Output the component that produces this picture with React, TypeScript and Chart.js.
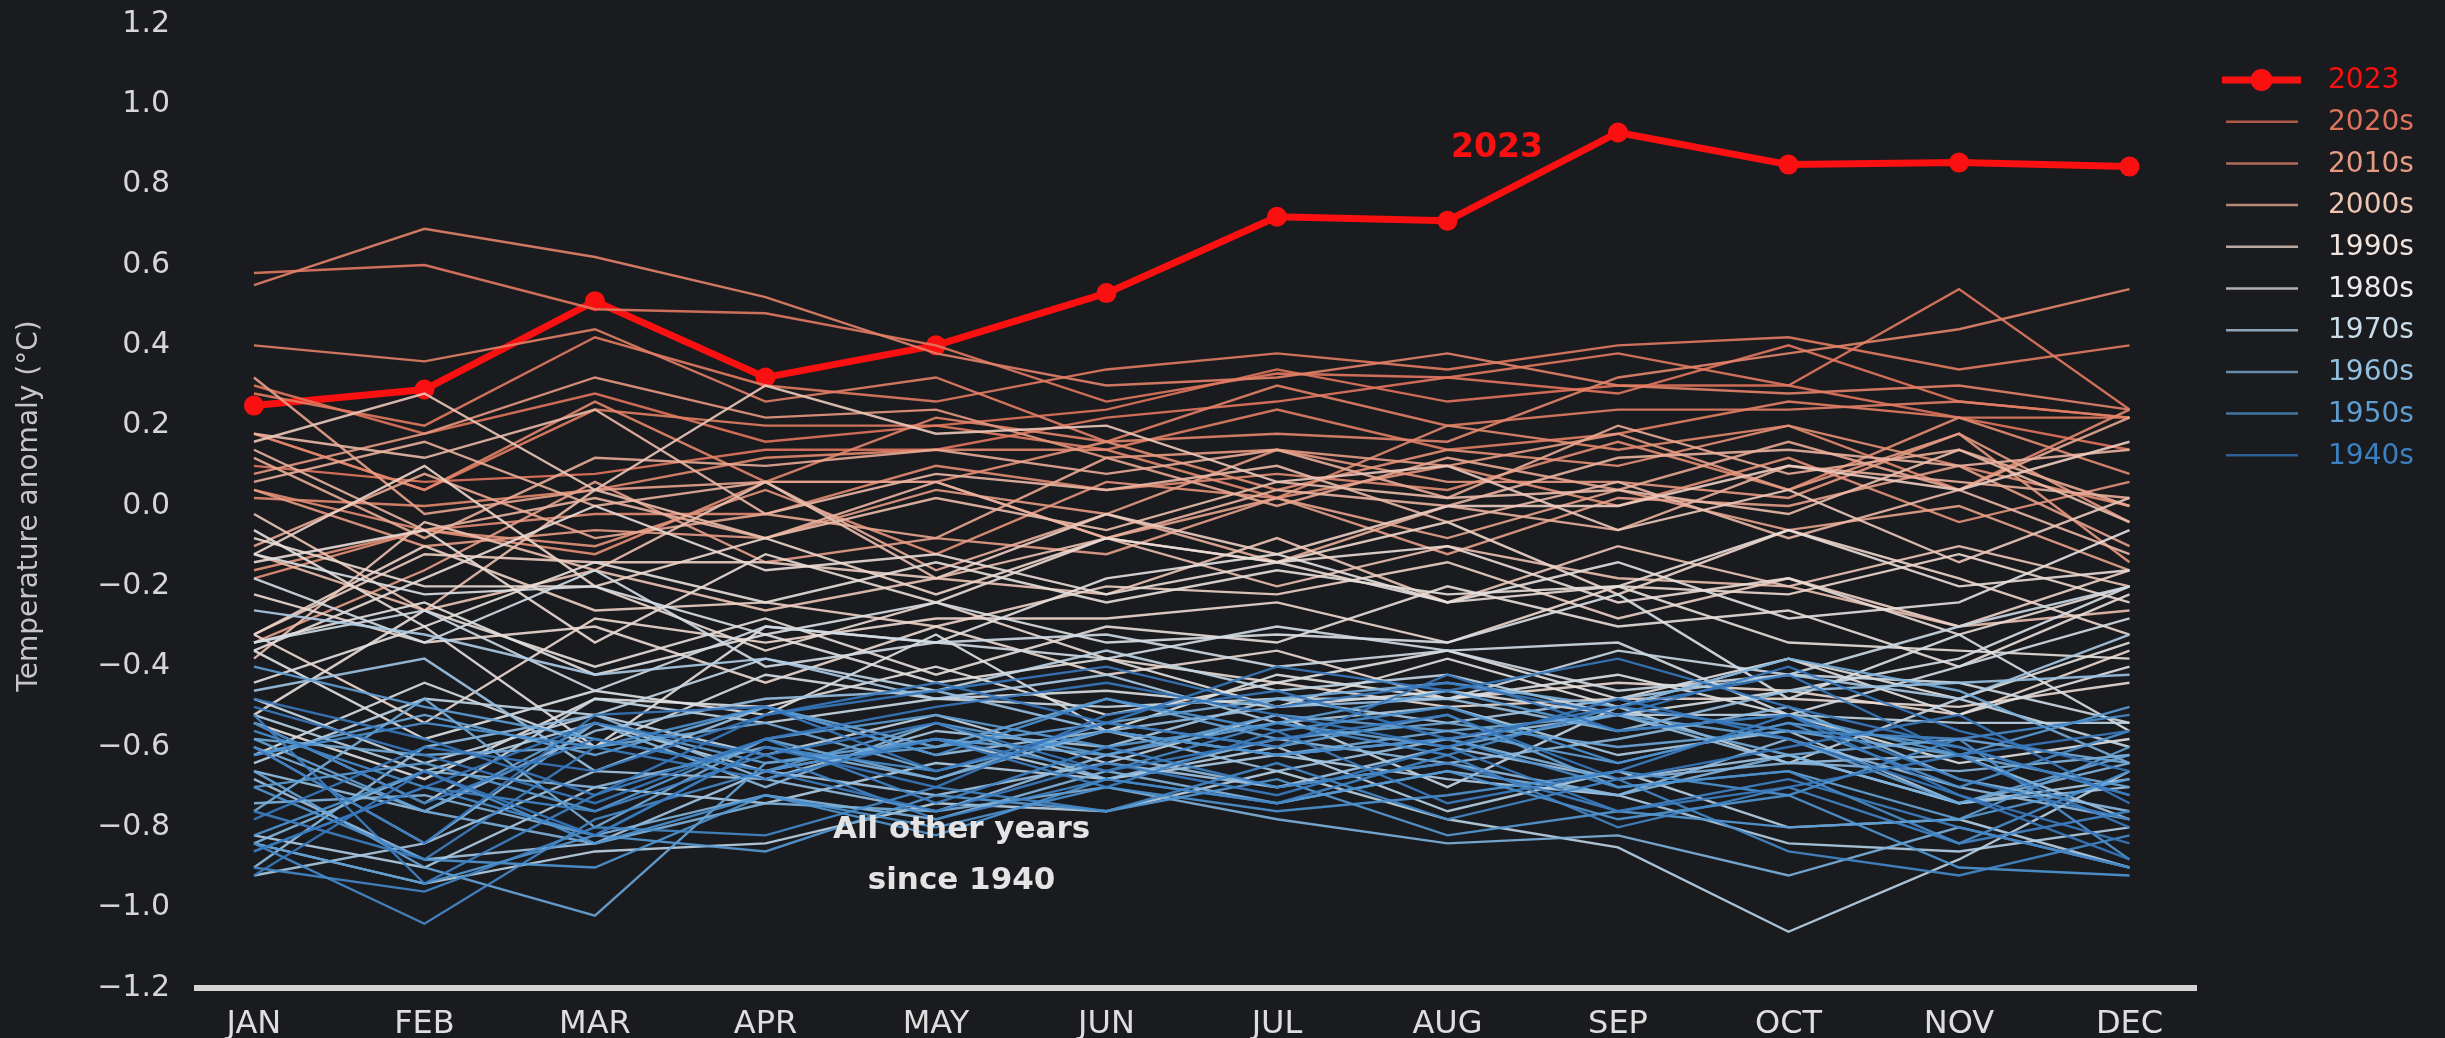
import React, { useEffect, useRef } from 'react';
import { Chart, registerables } from 'chart.js';

Chart.register(...registerables);

const months = ['JAN', 'FEB', 'MAR', 'APR', 'MAY', 'JUN', 'JUL', 'AUG', 'SEP', 'OCT', 'NOV', 'DEC'];

const highlightLabel = '2023';
const highlightValues = [0.25, 0.29, 0.51, 0.32, 0.40, 0.53, 0.72, 0.71, 0.93, 0.85, 0.855, 0.845];

const pastYears = [
  1940, 1941, 1942, 1943, 1944, 1945, 1946, 1947, 1948, 1949,
  1950, 1951, 1952, 1953, 1954, 1955, 1956, 1957, 1958, 1959,
  1960, 1961, 1962, 1963, 1964, 1965, 1966, 1967, 1968, 1969,
  1970, 1971, 1972, 1973, 1974, 1975, 1976, 1977, 1978, 1979,
  1980, 1981, 1982, 1983, 1984, 1985, 1986, 1987, 1988, 1989,
  1990, 1991, 1992, 1993, 1994, 1995, 1996, 1997, 1998, 1999,
  2000, 2001, 2002, 2003, 2004, 2005, 2006, 2007, 2008, 2009,
  2010, 2011, 2012, 2013, 2014, 2015, 2016, 2017, 2018, 2019,
  2020, 2021, 2022,
];

const pastAnomalies = [
  [-0.50, -0.62, -0.74, -0.58, -0.50, -0.44, -0.52, -0.60, -0.48, -0.58, -0.72, -0.84],
  [-0.78, -0.60, -0.66, -0.52, -0.46, -0.40, -0.50, -0.44, -0.52, -0.40, -0.56, -0.66],
  [-0.86, -0.70, -0.54, -0.62, -0.54, -0.66, -0.58, -0.52, -0.68, -0.60, -0.52, -0.74],
  [-0.92, -0.66, -0.82, -0.60, -0.70, -0.52, -0.46, -0.58, -0.50, -0.42, -0.62, -0.56],
  [-0.48, -0.58, -0.72, -0.52, -0.44, -0.54, -0.40, -0.46, -0.38, -0.50, -0.60, -0.72],
  [-0.60, -0.84, -0.52, -0.50, -0.66, -0.54, -0.60, -0.42, -0.56, -0.52, -0.72, -0.88],
  [-0.54, -0.74, -0.58, -0.66, -0.76, -0.64, -0.72, -0.60, -0.76, -0.70, -0.62, -0.80],
  [-0.76, -0.88, -0.60, -0.68, -0.58, -0.70, -0.56, -0.74, -0.66, -0.52, -0.68, -0.78],
  [-0.52, -0.94, -0.72, -0.58, -0.74, -0.60, -0.70, -0.64, -0.76, -0.68, -0.80, -0.90],
  [-0.86, -0.70, -0.76, -0.62, -0.78, -0.68, -0.74, -0.62, -0.80, -0.70, -0.84, -0.76],
  [-0.90, -0.96, -0.80, -0.82, -0.70, -0.76, -0.64, -0.78, -0.68, -0.86, -0.92, -0.82],
  [-0.84, -1.04, -0.78, -0.66, -0.58, -0.66, -0.54, -0.62, -0.50, -0.56, -0.58, -0.52],
  [-0.56, -0.70, -0.82, -0.60, -0.66, -0.56, -0.62, -0.58, -0.70, -0.66, -0.84, -0.66],
  [-0.62, -0.54, -0.60, -0.50, -0.62, -0.48, -0.56, -0.50, -0.64, -0.54, -0.70, -0.56],
  [-0.82, -0.66, -0.84, -0.72, -0.80, -0.70, -0.76, -0.72, -0.66, -0.72, -0.58, -0.88],
  [-0.70, -0.88, -0.90, -0.72, -0.82, -0.68, -0.74, -0.66, -0.78, -0.72, -0.90, -0.92],
  [-0.84, -0.94, -0.82, -0.86, -0.72, -0.76, -0.68, -0.82, -0.76, -0.80, -0.78, -0.68],
  [-0.70, -0.64, -0.76, -0.58, -0.52, -0.60, -0.54, -0.46, -0.56, -0.52, -0.62, -0.50],
  [-0.40, -0.50, -0.58, -0.66, -0.54, -0.62, -0.52, -0.56, -0.64, -0.54, -0.60, -0.72],
  [-0.58, -0.76, -0.54, -0.64, -0.60, -0.54, -0.60, -0.52, -0.70, -0.66, -0.78, -0.60],
  [-0.66, -0.90, -1.02, -0.64, -0.58, -0.62, -0.54, -0.60, -0.52, -0.58, -0.74, -0.62],
  [-0.62, -0.52, -0.62, -0.50, -0.60, -0.48, -0.58, -0.54, -0.60, -0.56, -0.62, -0.70],
  [-0.58, -0.62, -0.60, -0.54, -0.66, -0.56, -0.62, -0.56, -0.52, -0.62, -0.58, -0.64],
  [-0.76, -0.48, -0.80, -0.58, -0.68, -0.54, -0.48, -0.44, -0.50, -0.38, -0.46, -0.64],
  [-0.60, -0.76, -0.84, -0.74, -0.76, -0.70, -0.78, -0.84, -0.82, -0.92, -0.80, -0.90],
  [-0.74, -0.72, -0.82, -0.72, -0.78, -0.66, -0.74, -0.66, -0.72, -0.62, -0.74, -0.64],
  [-0.84, -0.66, -0.70, -0.60, -0.68, -0.56, -0.62, -0.58, -0.68, -0.64, -0.66, -0.62],
  [-0.60, -0.84, -0.54, -0.70, -0.54, -0.68, -0.58, -0.64, -0.58, -0.50, -0.68, -0.76],
  [-0.90, -0.60, -0.52, -0.68, -0.76, -0.62, -0.70, -0.64, -0.72, -0.58, -0.70, -0.78],
  [-0.66, -0.76, -0.56, -0.48, -0.46, -0.56, -0.50, -0.48, -0.56, -0.46, -0.44, -0.42],
  [-0.46, -0.38, -0.66, -0.50, -0.62, -0.56, -0.66, -0.58, -0.52, -0.64, -0.62, -0.78],
  [-0.68, -0.88, -0.84, -0.66, -0.72, -0.64, -0.70, -0.60, -0.68, -0.62, -0.74, -0.70],
  [-0.92, -0.84, -0.66, -0.68, -0.56, -0.60, -0.48, -0.54, -0.48, -0.42, -0.48, -0.32],
  [-0.26, -0.32, -0.42, -0.38, -0.48, -0.42, -0.54, -0.50, -0.62, -0.56, -0.74, -0.68],
  [-0.82, -0.90, -0.70, -0.74, -0.64, -0.68, -0.62, -0.68, -0.72, -0.84, -0.86, -0.80],
  [-0.52, -0.66, -0.54, -0.66, -0.58, -0.68, -0.60, -0.76, -0.66, -0.80, -0.78, -0.90],
  [-0.84, -0.94, -0.86, -0.84, -0.74, -0.76, -0.66, -0.78, -0.85, -1.06, -0.88, -0.66],
  [-0.64, -0.48, -0.52, -0.38, -0.46, -0.36, -0.46, -0.42, -0.52, -0.52, -0.54, -0.54],
  [-0.48, -0.64, -0.52, -0.62, -0.52, -0.64, -0.52, -0.70, -0.50, -0.64, -0.48, -0.60],
  [-0.54, -0.74, -0.48, -0.54, -0.48, -0.50, -0.48, -0.48, -0.36, -0.42, -0.30, -0.20],
  [-0.34, -0.26, -0.46, -0.30, -0.34, -0.32, -0.40, -0.36, -0.46, -0.42, -0.44, -0.54],
  [-0.18, -0.34, -0.16, -0.40, -0.34, -0.38, -0.30, -0.36, -0.34, -0.52, -0.40, -0.28],
  [-0.62, -0.44, -0.60, -0.42, -0.48, -0.46, -0.50, -0.46, -0.52, -0.46, -0.38, -0.20],
  [-0.12, -0.22, -0.20, -0.32, -0.24, -0.34, -0.32, -0.34, -0.22, -0.48, -0.32, -0.56],
  [-0.36, -0.58, -0.46, -0.52, -0.32, -0.56, -0.42, -0.48, -0.42, -0.52, -0.64, -0.58],
  [-0.54, -0.68, -0.48, -0.50, -0.40, -0.52, -0.44, -0.36, -0.48, -0.38, -0.52, -0.40],
  [-0.34, -0.24, -0.42, -0.32, -0.44, -0.38, -0.50, -0.38, -0.50, -0.38, -0.48, -0.34],
  [-0.44, -0.30, -0.60, -0.30, -0.34, -0.18, -0.12, -0.24, -0.14, -0.28, -0.24, -0.06],
  [-0.06, -0.30, -0.14, -0.24, -0.14, -0.24, -0.16, -0.22, -0.20, -0.34, -0.36, -0.38],
  [-0.52, -0.26, -0.40, -0.28, -0.42, -0.30, -0.34, -0.20, -0.30, -0.26, -0.40, -0.22],
  [-0.36, -0.18, 0.00, -0.16, -0.12, -0.22, -0.14, -0.24, -0.20, -0.06, -0.20, -0.16],
  [-0.14, -0.06, -0.34, -0.12, -0.24, -0.08, -0.14, -0.10, -0.24, -0.18, -0.32, -0.20],
  [-0.08, -0.20, -0.20, -0.36, -0.24, -0.38, -0.44, -0.50, -0.48, -0.48, -0.50, -0.44],
  [-0.22, -0.34, -0.30, -0.44, -0.30, -0.42, -0.36, -0.48, -0.44, -0.46, -0.52, -0.36],
  [-0.32, -0.54, -0.28, -0.34, -0.28, -0.28, -0.24, -0.34, -0.20, -0.22, -0.12, -0.24],
  [-0.12, 0.10, -0.20, -0.08, -0.22, -0.08, -0.14, -0.04, -0.22, -0.06, -0.18, -0.32],
  [-0.32, -0.10, -0.26, -0.24, -0.30, -0.20, -0.22, -0.14, -0.28, -0.18, -0.30, -0.16],
  [-0.32, -0.12, -0.14, -0.14, -0.18, -0.02, -0.12, 0.00, 0.00, 0.10, 0.04, 0.16],
  [0.16, 0.28, 0.04, 0.30, 0.18, 0.20, 0.06, 0.10, -0.06, 0.04, -0.14, 0.02],
  [-0.02, -0.26, -0.16, -0.26, -0.18, -0.22, -0.08, -0.24, -0.10, -0.20, -0.10, -0.20],
  [-0.38, -0.04, -0.16, 0.06, -0.18, -0.08, -0.20, -0.10, -0.18, -0.20, -0.30, -0.26],
  [-0.12, -0.26, 0.04, -0.08, 0.02, -0.06, 0.06, 0.02, 0.04, -0.02, 0.14, -0.04],
  [0.18, 0.12, 0.24, -0.02, 0.08, 0.04, 0.10, -0.04, 0.06, -0.08, 0.04, -0.12],
  [0.14, -0.06, 0.02, -0.08, 0.06, -0.08, 0.04, 0.00, 0.12, 0.14, 0.10, 0.14],
  [0.06, 0.16, 0.00, 0.06, -0.16, -0.02, -0.14, 0.00, -0.06, 0.10, 0.06, 0.02],
  [0.12, -0.08, 0.12, 0.10, 0.14, 0.08, 0.14, 0.02, 0.20, 0.08, 0.14, 0.00],
  [-0.10, 0.08, -0.08, -0.02, -0.08, 0.12, 0.00, 0.12, 0.04, 0.16, 0.04, 0.22],
  [0.32, -0.02, 0.04, 0.06, 0.06, -0.08, 0.02, -0.08, 0.04, -0.06, 0.00, -0.16],
  [-0.34, -0.16, 0.06, -0.14, -0.08, -0.12, 0.02, -0.12, 0.02, 0.00, 0.10, -0.10],
  [0.04, -0.10, -0.06, -0.08, 0.04, -0.02, 0.14, 0.10, 0.18, 0.04, 0.18, -0.04],
  [0.08, 0.18, 0.32, 0.22, 0.24, 0.12, 0.14, 0.06, 0.06, 0.02, 0.18, -0.14],
  [-0.16, -0.06, -0.10, 0.04, -0.12, 0.06, 0.02, 0.10, 0.00, 0.12, -0.04, 0.06],
  [-0.18, -0.06, -0.12, 0.06, 0.06, 0.16, 0.04, 0.14, 0.10, 0.20, 0.10, 0.00],
  [0.04, -0.06, -0.02, -0.02, 0.10, 0.04, 0.08, 0.04, 0.16, 0.04, 0.22, 0.08],
  [0.02, 0.00, 0.04, 0.12, 0.14, 0.14, 0.02, 0.20, 0.14, 0.20, 0.04, 0.24],
  [0.18, 0.04, 0.26, 0.06, 0.22, 0.16, 0.18, 0.16, 0.32, 0.38, 0.44, 0.54],
  [0.55, 0.69, 0.62, 0.52, 0.38, 0.30, 0.32, 0.38, 0.30, 0.28, 0.30, 0.24],
  [0.40, 0.36, 0.44, 0.26, 0.32, 0.16, 0.30, 0.20, 0.24, 0.24, 0.26, 0.22],
  [0.18, 0.04, 0.24, 0.20, 0.20, 0.14, 0.24, 0.14, 0.18, 0.26, 0.22, 0.22],
  [0.28, 0.20, 0.42, 0.30, 0.26, 0.34, 0.38, 0.34, 0.40, 0.42, 0.34, 0.40],
  [0.58, 0.60, 0.49, 0.48, 0.40, 0.26, 0.33, 0.32, 0.38, 0.30, 0.54, 0.24],
  [0.10, 0.06, 0.08, 0.14, 0.14, 0.22, 0.26, 0.32, 0.28, 0.40, 0.26, 0.22],
  [0.30, 0.18, 0.28, 0.16, 0.20, 0.24, 0.34, 0.26, 0.30, 0.30, 0.22, 0.14],
];

const decadeLabels = ['2020s', '2010s', '2000s', '1990s', '1980s', '1970s', '1960s', '1950s', '1940s'];
const decadeStarts = [2020, 2010, 2000, 1990, 1980, 1970, 1960, 1950, 1940];
const decadeColors = ['#dc735c', '#e59a84', '#eec5b3', '#f1e4dd', '#ebebeb', '#c9dcea', '#93bfde', '#5d9dd0', '#3b80c2'];
const lineColors = ['#e06e56', '#e2866c', '#e9ad98', '#eed8ce', '#e4e4e4', '#b6d2e8', '#7fb3de', '#4f95d2', '#3778bd'];

const HIGHLIGHT = '#fa1010';
const BG = '#1a1b1e';
const FONT = "'DejaVu Sans', Verdana, sans-serif";

const textLabels = [
  { text: '2023', x: 7.29, y: 0.89, color: HIGHLIGHT, font: `bold 33px ${FONT}` },
  { text: 'All other years', x: 4.15, y: -0.806, color: '#e4e4e4', font: `bold 31px ${FONT}` },
  { text: 'since 1940', x: 4.15, y: -0.934, color: '#e4e4e4', font: `bold 31px ${FONT}` },
];

function hexToRgb(h: string): number[] {
  const n = parseInt(h.slice(1), 16);
  return [(n >> 16) & 255, (n >> 8) & 255, n & 255];
}

function yearColor(year: number, alpha: number): string {
  const mids = decadeStarts.map((d) => d + 4.5).slice().reverse();
  const cols = lineColors.slice().reverse().map(hexToRgb);
  let c = cols[0];
  if (year <= mids[0]) c = cols[0];
  else if (year >= mids[mids.length - 1]) c = cols[cols.length - 1];
  else {
    for (let i = 0; i < mids.length - 1; i++) {
      if (year >= mids[i] && year <= mids[i + 1]) {
        const t = (year - mids[i]) / (mids[i + 1] - mids[i]);
        c = cols[i].map((v, k) => Math.round(v + (cols[i + 1][k] - v) * t));
        break;
      }
    }
  }
  return `rgba(${c[0]},${c[1]},${c[2]},${alpha})`;
}

function fmtTick(v: number): string {
  if (Math.abs(v) < 1e-9) return '0.0';
  const s = Math.abs(v).toFixed(1);
  return v < 0 ? '\u2212' + s : s;
}

const overlayPlugin = {
  id: 'overlay',
  afterDatasetsDraw(chart: any) {
    const { ctx, chartArea } = chart;
    const xs = chart.scales.x;
    const ys = chart.scales.y;
    ctx.save();
    ctx.textAlign = 'center';
    ctx.textBaseline = 'middle';
    for (const a of textLabels) {
      ctx.font = a.font;
      ctx.fillStyle = a.color;
      ctx.fillText(a.text, xs.getPixelForValue(a.x), ys.getPixelForValue(a.y));
    }
    const x0 = chartArea.right + 30;
    const x1 = chartArea.right + 105;
    const tx = chartArea.right + 132;
    const top = 80;
    const step = 41.7;
    ctx.textAlign = 'left';
    ctx.font = `28px ${FONT}`;
    ctx.lineCap = 'butt';
    ctx.strokeStyle = HIGHLIGHT;
    ctx.lineWidth = 7;
    ctx.beginPath();
    ctx.moveTo(x0 - 4, top);
    ctx.lineTo(x1, top);
    ctx.stroke();
    ctx.fillStyle = HIGHLIGHT;
    ctx.beginPath();
    ctx.arc((x0 + x1) / 2 - 2, top, 11, 0, Math.PI * 2);
    ctx.fill();
    ctx.fillText(highlightLabel, tx, top + 1);
    decadeLabels.forEach((lab, i) => {
      const yy = top + step * (i + 1);
      ctx.strokeStyle = yearColor(decadeStarts[i] + 4.5, 0.75);
      ctx.lineWidth = 2.5;
      ctx.beginPath();
      ctx.moveTo(x0, yy);
      ctx.lineTo(x1 - 3, yy);
      ctx.stroke();
      ctx.fillStyle = decadeColors[i];
      ctx.fillText(lab, tx, yy + 1);
    });
    ctx.restore();
  },
};

export default function App() {
  const ref = useRef<HTMLCanvasElement | null>(null);

  useEffect(() => {
    if (!ref.current) return;
    const datasets: any[] = pastAnomalies.map((row, i) => ({
      label: String(pastYears[i]),
      data: row.map((v, m) => ({ x: m, y: v })),
      borderColor: yearColor(pastYears[i], 0.9),
      borderWidth: 2.4,
      pointRadius: 0,
      tension: 0,
    }));
    datasets.push({
      label: highlightLabel,
      data: highlightValues.map((v, m) => ({ x: m, y: v })),
      borderColor: HIGHLIGHT,
      backgroundColor: HIGHLIGHT,
      borderWidth: 7,
      pointRadius: 10,
      pointBorderWidth: 0,
      pointBackgroundColor: HIGHLIGHT,
      tension: 0,
    });

    const chart = new Chart(ref.current, {
      type: 'line',
      data: { datasets },
      options: {
        responsive: false,
        animation: false,
        devicePixelRatio: 1,
        layout: { padding: { top: 24, right: 249, left: 0, bottom: 0 } },
        plugins: {
          legend: { display: false },
          tooltip: { enabled: false },
        },
        scales: {
          x: {
            type: 'linear',
            min: -0.334,
            max: 11.39,
            afterBuildTicks: (s: any) => {
              s.ticks = months.map((_, i) => ({ value: i }));
            },
            afterFit: (s: any) => {
              s.height = 50;
            },
            grid: { display: false, drawTicks: false },
            border: { display: true, color: '#d4d4d4', width: 6 },
            ticks: {
              autoSkip: false,
              maxRotation: 0,
              padding: 17,
              color: '#dedede',
              font: { family: FONT, size: 32 },
              callback: (v: any) => months[Math.round(Number(v))] ?? '',
            },
          },
          y: {
            min: -1.2,
            max: 1.2,
            afterFit: (s: any) => {
              s.width = 197;
              s.paddingTop = 0;
              s.paddingBottom = 0;
            },
            grid: { display: false, drawTicks: false },
            border: { display: false },
            ticks: {
              stepSize: 0.2,
              padding: 27,
              color: '#d6d6d6',
              font: { family: FONT, size: 30 },
              callback: (v: any) => fmtTick(Number(v)),
            },
            title: {
              display: true,
              text: 'Temperature anomaly (°C)',
              color: '#c6c6c6',
              font: { family: FONT, size: 28 },
              padding: { top: 13, bottom: 0 },
            },
          },
        },
      } as any,
      plugins: [overlayPlugin],
    });
    return () => chart.destroy();
  }, []);

  return (
    <div style={{ position: 'fixed', left: 0, top: 0, width: 2445, height: 1038, background: BG, overflow: 'hidden' }}>
      <canvas ref={ref} width={2445} height={1038} style={{ width: 2445, height: 1038, display: 'block' }} />
    </div>
  );
}
